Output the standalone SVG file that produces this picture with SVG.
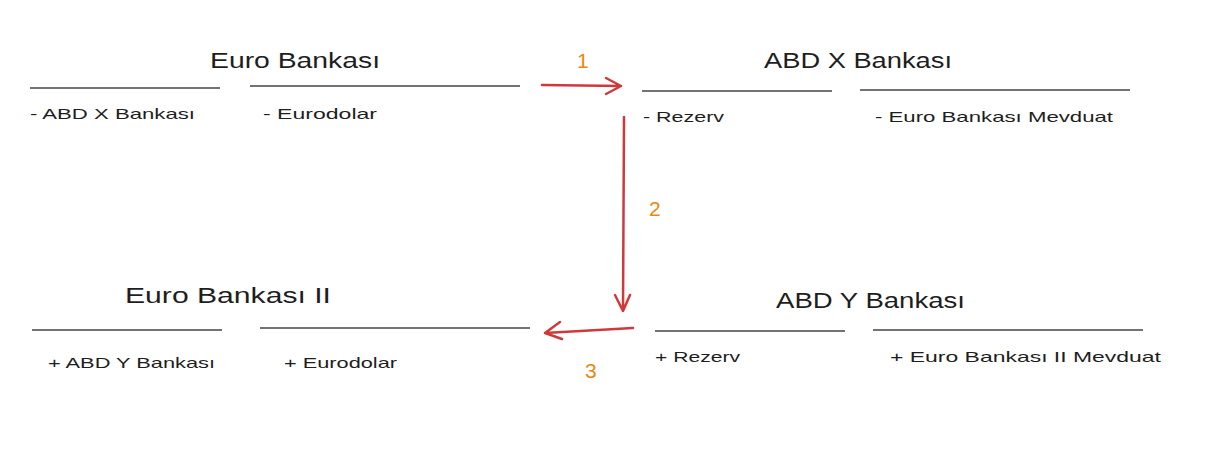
<svg xmlns="http://www.w3.org/2000/svg" width="1205" height="454" viewBox="0 0 1205 454">
<defs>
<style>
.t{font-family:"Liberation Sans","DejaVu Sans",sans-serif;font-size:22px;fill:#1e1e1e}
.i{font-family:"Liberation Sans","DejaVu Sans",sans-serif;font-size:15px;fill:#1e1e1e}
.n{font-family:"Liberation Sans",Arial,sans-serif;font-size:21px;fill:#e8890c}
.ln{stroke:#444444;stroke-width:1.3;fill:none}
.ar{stroke:#d0393c;stroke-width:2.5;fill:none;stroke-linecap:round;stroke-linejoin:round}
</style>
</defs>
<rect width="1205" height="454" fill="#ffffff"/>
<g id="euro-bankasi">
<text class="t" x="210" y="68" textLength="170" lengthAdjust="spacingAndGlyphs">Euro Bankası</text>
<line class="ln" x1="30" y1="88" x2="220" y2="88"/>
<line class="ln" x1="250" y1="86" x2="520" y2="86"/>
<text class="i" x="30" y="119" textLength="165" lengthAdjust="spacingAndGlyphs">- ABD X Bankası</text>
<text class="i" x="263" y="119" textLength="114" lengthAdjust="spacingAndGlyphs">- Eurodolar</text>
</g>
<g id="abd-x-bankasi">
<text class="t" x="764" y="68" textLength="188" lengthAdjust="spacingAndGlyphs">ABD X Bankası</text>
<line class="ln" x1="642" y1="91" x2="832" y2="91"/>
<line class="ln" x1="860" y1="90" x2="1130" y2="90"/>
<text class="i" x="643" y="122" textLength="81" lengthAdjust="spacingAndGlyphs">- Rezerv</text>
<text class="i" x="875" y="122" textLength="238" lengthAdjust="spacingAndGlyphs">- Euro Bankası Mevduat</text>
</g>
<g id="euro-bankasi-ii">
<text class="t" x="125" y="303" textLength="206" lengthAdjust="spacingAndGlyphs">Euro Bankası II</text>
<line class="ln" x1="32" y1="330" x2="222" y2="330"/>
<line class="ln" x1="260" y1="328" x2="530" y2="328"/>
<text class="i" x="48" y="368" textLength="167" lengthAdjust="spacingAndGlyphs">+ ABD Y Bankası</text>
<text class="i" x="284" y="368" textLength="113" lengthAdjust="spacingAndGlyphs">+ Eurodolar</text>
</g>
<g id="abd-y-bankasi">
<text class="t" x="776" y="308" textLength="189" lengthAdjust="spacingAndGlyphs">ABD Y Bankası</text>
<line class="ln" x1="655" y1="331" x2="845" y2="331"/>
<line class="ln" x1="873" y1="330" x2="1143" y2="330"/>
<text class="i" x="655" y="362" textLength="85" lengthAdjust="spacingAndGlyphs">+ Rezerv</text>
<text class="i" x="890" y="362" textLength="271" lengthAdjust="spacingAndGlyphs">+ Euro Bankası II Mevduat</text>
</g>
<g id="connectors">
<path class="ar" d="M542 85 L621 86 M606 78 L621 86 L606 94"/>
<path class="ar" d="M624 117 L623 311 M615 295 L623 311 L630 295"/>
<path class="ar" d="M633 328 L545 333 M560 322 L545 333 L562 339"/>
<text class="n" x="577" y="68">1</text>
<text class="n" x="649" y="216">2</text>
<text class="n" x="585" y="378">3</text>
</g>
</svg>
